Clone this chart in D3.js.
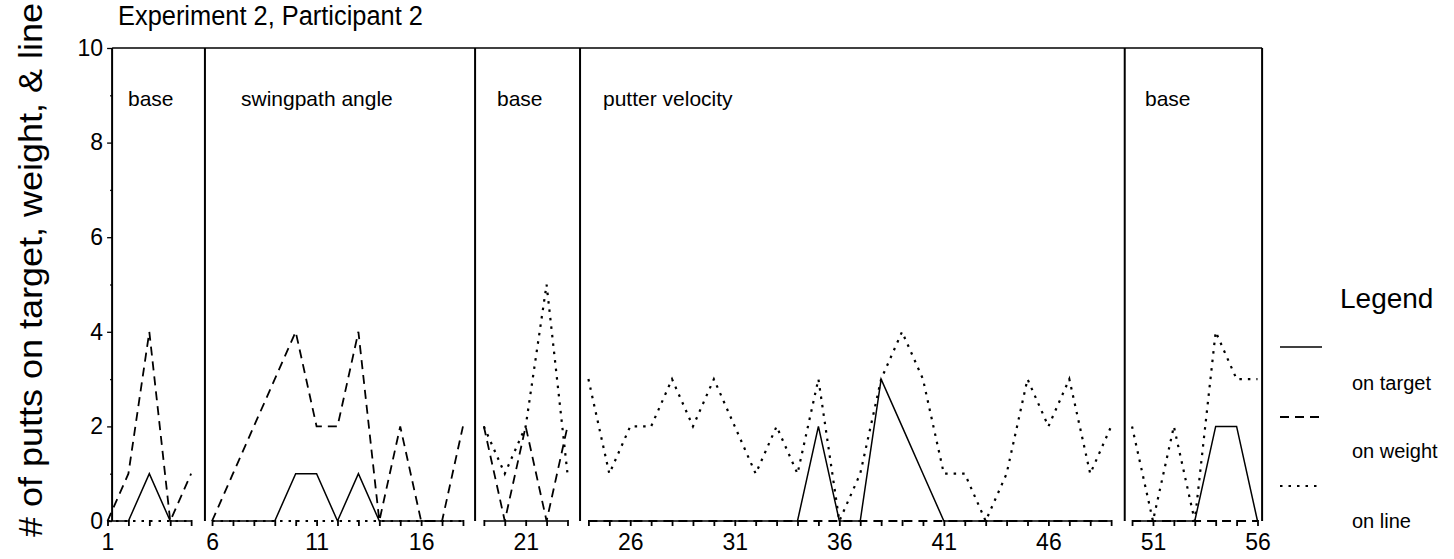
<!DOCTYPE html>
<html>
<head>
<meta charset="utf-8">
<script src="https://cdn.jsdelivr.net/npm/d3@7"></script>
<style>
  html, body { margin: 0; padding: 0; background: #fff; }
  svg { display: block; font-family: "Liberation Sans", Arial, Helvetica, sans-serif; }
</style>
</head>
<body>
<svg id="chart" width="1454" height="559"></svg>
<script>
// Sessions 1..56
const sessions = d3.range(1, 57);

// Number of putts per session for each measure
const onTarget = [0,0,1,0,0, 0,0,0,0,1,1,0,1,0,0,0,0,0, 0,0,0,0,0,
  0,0,0,0,0,0,0,0,0,0,0,2,0,0,3,2,1,0,0,0,0,0,0,0,0,0, 0,0,0,0,2,2,0];
const onWeight = [0,1,4,0,1, 0,1,2,3,4,2,2,4,0,2,0,0,2, 2,0,2,0,2,
  0,0,0,0,0,0,0,0,0,0,0,0,0,0,0,0,0,0,0,0,0,0,0,0,0,0, 0,0,0,0,0,0,0];
const onLine = [0,0,0,0,0, 0,0,0,0,0,0,0,0,0,0,0,0,0, 2,1,2,5,1,
  3,1,2,2,3,2,3,2,1,2,1,3,0,1,3,4,3,1,1,0,1,3,2,3,1,2, 2,0,2,0,4,3,3];

// Phases: first and last session of each condition
const phaseNames = ["base", "swingpath angle", "base", "putter velocity", "base"];
const phaseStart = [1, 6, 19, 24, 50];
const phaseEnd   = [5, 18, 23, 49, 56];
// Condition-change lines, in session units
const phaseLines = [1.22, 5.66, 18.58, 23.6, 49.65, 56.22];

const yTicks = [0, 2, 4, 6, 8, 10];
const yMinor = [1, 3, 5, 7, 9];
const xLabels = [1, 6, 11, 16, 21, 26, 31, 36, 41, 46, 51, 56];

const seriesNames = ["on target", "on weight", "on line"];

const svg = d3.select("#chart");
const x = d3.scaleLinear().domain([1, 56]).range([107.5, 1257.5]);
const y = d3.scaleLinear().domain([0, 10]).range([521, 48]);

// Title and axis label
svg.append("text")
  .attr("x", 118).attr("y", 25)
  .attr("font-size", 27)
  .attr("textLength", 305).attr("lengthAdjust", "spacingAndGlyphs")
  .text("Experiment 2, Participant 2");

svg.append("text")
  .attr("transform", "translate(42,270) rotate(-90)")
  .attr("text-anchor", "middle")
  .attr("font-size", 33)
  .attr("textLength", 534).attr("lengthAdjust", "spacingAndGlyphs")
  .text("# of putts on target, weight, & line");

// Top border
svg.append("line")
  .attr("x1", x(phaseLines[0])).attr("x2", x(phaseLines[phaseLines.length - 1]))
  .attr("y1", y(10)).attr("y2", y(10))
  .attr("stroke", "#000").attr("stroke-width", 1.6);

// Condition-change lines
svg.append("g").selectAll("line").data(phaseLines).join("line")
  .attr("x1", d => x(d)).attr("x2", d => x(d))
  .attr("y1", y(10)).attr("y2", y(0))
  .attr("stroke", "#000").attr("stroke-width", 2);

// Y axis: major ticks with labels, minor ticks at odd values
const yAxis = d3.axisLeft(y).tickValues(yTicks).tickSize(5).tickPadding(4).tickFormat(d3.format("d"));
const gy = svg.append("g").attr("transform", `translate(${x(phaseLines[0])},0)`).call(yAxis);
gy.select(".domain").remove();
gy.selectAll("text").attr("font-size", 23).attr("font-family", "Liberation Sans, Arial, sans-serif").attr("fill", "#000");
gy.selectAll("line").attr("stroke", "#000").attr("stroke-width", 1.3);

const yMinorAxis = d3.axisLeft(y).tickValues(yMinor).tickSize(2).tickFormat("");
const gym = svg.append("g").attr("transform", `translate(${x(phaseLines[0])},0)`).call(yMinorAxis);
gym.select(".domain").remove();
gym.selectAll("line").attr("stroke", "#000").attr("stroke-width", 1.3);

// X axis: a mark at every session, labels every five
const xAxis = d3.axisBottom(x).tickValues(sessions).tickSize(6).tickPadding(4)
  .tickFormat(d => xLabels.includes(d) ? d : "");
const gx = svg.append("g").attr("transform", `translate(0,${y(0) - 1})`).call(xAxis);
gx.select(".domain").remove();
gx.selectAll("line").attr("stroke", "#000").attr("stroke-width", 1.8);
gx.selectAll("text").attr("font-size", 23).attr("font-family", "Liberation Sans, Arial, sans-serif").attr("fill", "#000").attr("dy", "0.85em");

// Phase labels
const phaseLabelX = [128, 241, 497, 603, 1145];
svg.append("g").selectAll("text").data(phaseNames).join("text")
  .attr("x", (d, i) => phaseLabelX[i])
  .attr("y", 106)
  .attr("font-size", 21)
  .text(d => d);

// Data lines, drawn separately in each phase
const styles = [
  { values: onTarget, dash: null, width: 1.5 },
  { values: onWeight, dash: "9,6", width: 1.8 },
  { values: onLine, dash: "2.5,6", width: 2.2 }
];
const line = d3.line().x(d => x(d.s)).y(d => y(d.v));
const gLines = svg.append("g");
styles.forEach(st => {
  phaseStart.forEach((s0, p) => {
    const pts = d3.range(s0, phaseEnd[p] + 1).map(s => ({ s, v: st.values[s - 1] }));
    gLines.append("path")
      .attr("d", line(pts))
      .attr("fill", "none")
      .attr("stroke", "#000")
      .attr("stroke-width", st.width)
      .attr("stroke-dasharray", st.dash);
  });
});

// Legend
const lg = svg.append("g");
lg.append("text").attr("x", 1340).attr("y", 308).attr("font-size", 28).text("Legend");
const legendSampleY = [347, 417, 486];
const legendTextY = [390, 458, 528];
styles.forEach((st, i) => {
  lg.append("line")
    .attr("x1", 1280).attr("x2", 1322)
    .attr("y1", legendSampleY[i]).attr("y2", legendSampleY[i])
    .attr("stroke", "#000").attr("stroke-width", st.width === 1.5 ? 1.3 : st.width)
    .attr("stroke-dasharray", st.dash);
  lg.append("text")
    .attr("x", 1352).attr("y", legendTextY[i])
    .attr("font-size", 20)
    .text(seriesNames[i]);
});
</script>
</body>
</html>
